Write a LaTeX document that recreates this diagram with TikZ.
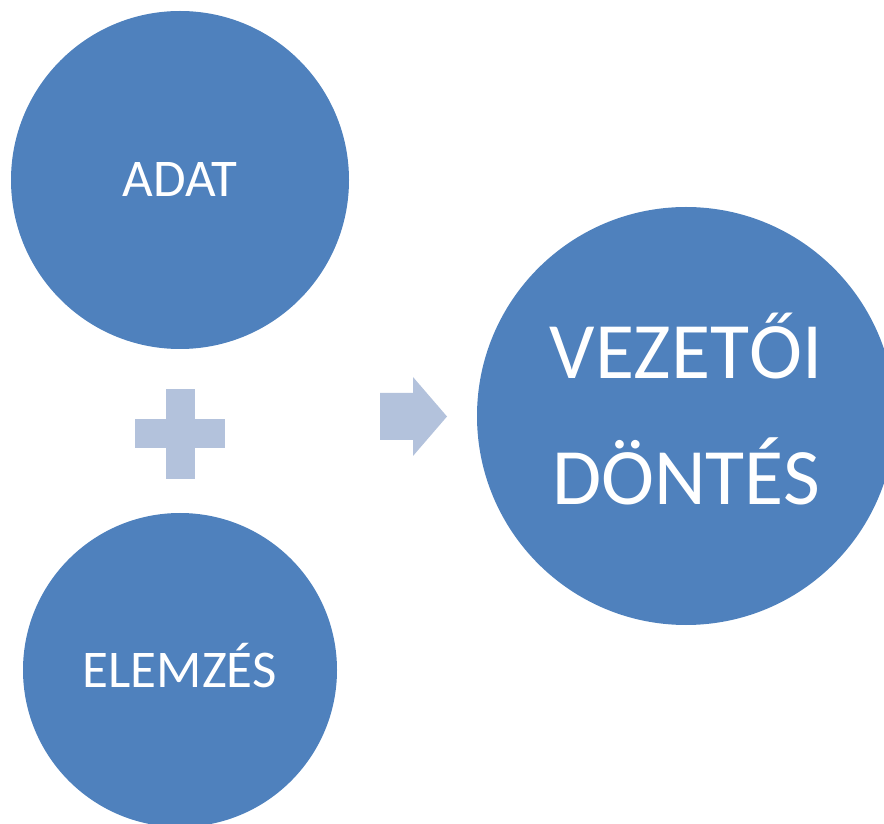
\documentclass[tikz,border=0pt]{standalone}
\usepackage{fontspec}
\setmainfont{Carlito}
\usetikzlibrary{positioning}
\definecolor{bubblue}{HTML}{4F81BD}
\definecolor{signblue}{HTML}{B3C2DC}
\begin{document}
\begin{tikzpicture}[x=1pt, y=1pt,
    bubble/.style={circle, fill=bubblue, text=white, inner sep=0pt,
      font=\fontsize{53}{64}\selectfont},
    sign/.style={fill=signblue}]
  \useasboundingbox (0,0) rectangle (884,823);
  % the two inputs
  \node [bubble, minimum size=338pt] (adat) at (180,643) {ADAT};
  \node [bubble, minimum size=314pt] (elemzes) at (180,153) {ELEMZ\smash{É}S};
  % the result
  \node [bubble, minimum size=418pt, align=center,
    font=\fontsize{80}{126}\selectfont] (dontes) at (686,407)
    {VEZET\smash{Ő}I\\DÖNTÉS};
  % plus and arrow
  \coordinate [below=254pt of adat.center] (plus);
  \fill [sign] (plus) ++(-45,-14.5) rectangle ++(90,29);
  \fill [sign] (plus) ++(-14.5,-45) rectangle ++(29,90);
  \coordinate (arr) at (380,406.5);
  \fill [sign] (arr) ++(0,-23.5) -- ++(33,0) -- ++(0,-16) -- ++(34,39.5)
    -- ++(-34,39.5) -- ++(0,-16) -- ++(-33,0) -- cycle;
\end{tikzpicture}
\end{document}
